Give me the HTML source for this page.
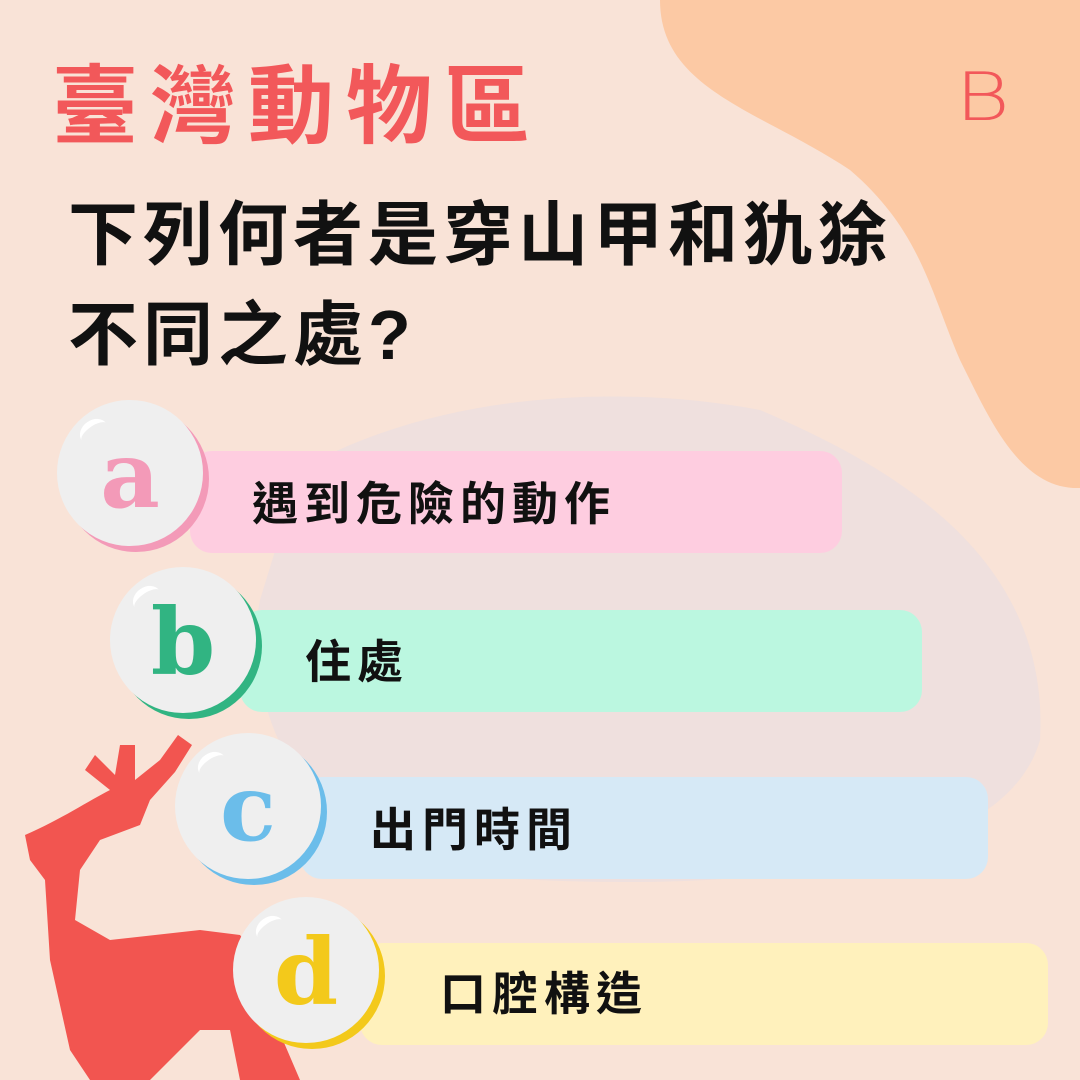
<!DOCTYPE html>
<html><head><meta charset="utf-8"><style>
body{margin:0}
#root{position:relative;width:1080px;height:1080px;overflow:hidden;background:#f9e3d7;font-family:"Liberation Sans","Noto Sans CJK TC",sans-serif}
.abs{position:absolute}
.bar{position:absolute;border-radius:22px;height:102px}
.opt{position:absolute;font-size:46px;font-weight:bold;color:#111;line-height:1;letter-spacing:6px}
.circ{position:absolute;width:146px;height:146px;border-radius:50%;background:#efefef;font-family:"DejaVu Serif","Liberation Serif",serif;font-weight:bold;font-size:92px;text-align:center;line-height:150px}
.shine{position:absolute;left:22px;top:20px;width:30px;height:18px;border-top:6px solid #fff;border-radius:50% 50% 0 0;transform:rotate(-35deg)}
</style></head><body>
<div id="root">
<svg class="abs" style="left:0;top:0" width="1080" height="1080">
<path d="M660 0 L1080 0 L1080 488 C1020 490 990 420 960 360 C930 290 920 230 850 170 C760 110 660 90 660 0Z" fill="#fcc9a4"/>
<path d="M300 470 C420 400 600 380 760 410 C900 470 1050 560 1040 740 C1000 880 700 900 400 870 C300 820 240 700 260 600Z" fill="#e2dbe6" opacity="0.45"/>
<path d="M25 835 C60 820 90 800 110 790 L85 770 L95 755 L115 775 L120 745 L135 745 L135 780 L160 760 L178 735 L192 745 L175 772 L150 800 L140 825 L100 840 L80 870 L75 920 L110 940 L200 930 L240 935 L260 960 L270 1010 L300 1080 L240 1080 L230 1030 L200 1030 L150 1080 L90 1080 L70 1050 L50 960 L45 880 L30 860 Z" fill="#f25550"/>
</svg>
<div class="abs" style="left:52px;top:36px;font-size:86px;font-weight:bold;color:#f2585a;letter-spacing:12px">臺灣動物區</div>
<svg class="abs" style="left:955px;top:70px" width="68" height="54"><text x="0" y="52" font-family="DejaVu Sans" font-size="70" font-weight="300" fill="#f2585a" transform="scale(1.2,0.96)">B</text></svg>
<div class="abs" style="left:68px;top:185px;font-size:70px;font-weight:bold;color:#111;line-height:100px;letter-spacing:5px">下列何者是穿山甲和犰狳<br>不同之處?</div>

<div class="bar" style="left:190px;top:451px;width:652px;background:#fecde0"></div>
<div class="circ" style="left:57px;top:400px;color:#f39ab8;box-shadow:6px 6px 0 #f39ab8"><div class="shine"></div>a</div>
<div class="opt" style="left:252px;top:481px">遇到危險的動作</div>

<div class="bar" style="left:240px;top:610px;width:682px;background:#bbf7e0"></div>
<div class="circ" style="left:110px;top:567px;color:#31b482;box-shadow:6px 6px 0 #31b482"><div class="shine"></div>b</div>
<div class="opt" style="left:305px;top:639px">住處</div>

<div class="bar" style="left:300px;top:777px;width:688px;background:#d6e9f6"></div>
<div class="circ" style="left:175px;top:733px;color:#6bbdea;box-shadow:6px 6px 0 #6bbdea"><div class="shine"></div>c</div>
<div class="opt" style="left:370px;top:807px">出門時間</div>

<div class="bar" style="left:360px;top:943px;width:688px;background:#fff1bc"></div>
<div class="circ" style="left:233px;top:897px;color:#f3c91b;box-shadow:6px 6px 0 #f3c91b"><div class="shine"></div>d</div>
<div class="opt" style="left:440px;top:971px">口腔構造</div>
</div>
</body></html>
